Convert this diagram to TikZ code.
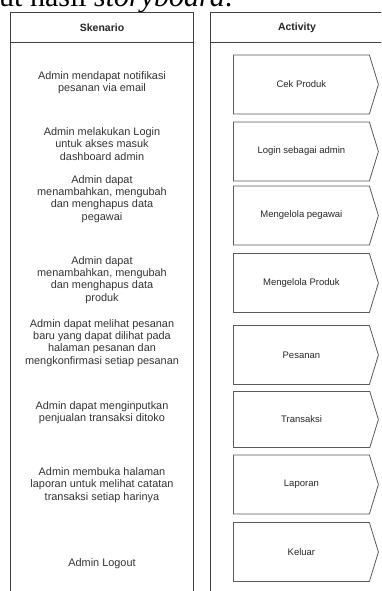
\documentclass[tikz,border=0pt]{standalone}
\usepackage{fontspec}
\setmainfont{Liberation Serif}[ItalicFont={Liberation Serif Italic}]
\newfontfamily\capfont{Liberation Serif}
\newfontfamily\capitfont{Liberation Serif Italic}
\newfontfamily\diagfont{Liberation Sans}
\usetikzlibrary{shapes.symbols}
\begin{document}
\begin{tikzpicture}[x=1pt,y=-1pt,
  panel/.style={draw=black!75, line width=0.8pt},
  hdr/.style={font=\diagfont\bfseries\fontsize{10.5}{12}\selectfont, text=black!85},
  scen/.style={align=center, font=\diagfont\fontsize{10.9}{12.3}\selectfont, text=black!80, inner sep=0pt},
  act/.style={signal, signal to=east, signal pointer angle=146, draw=black!65, line width=0.8pt,
    minimum width=145pt, minimum height=59pt, anchor=west, inner sep=0pt,
    font=\diagfont\fontsize{9.5}{11}\selectfont, text=black!85},
]
\useasboundingbox (0,0) rectangle (381,591);
\begin{scope}
\clip (0,0) rectangle (381,591);
\node[anchor=base west, inner sep=0pt, font=\capfont\fontsize{30}{30}\selectfont] (cap) at (-1,7) {ut hasil {\capitfont storyboard}.};
% panels
\draw[panel] (10.7,600) -- (10.7,12.6) -- (193.5,12.6) -- (193.5,600);
\draw[panel] (10.7,42.6) -- (193.5,42.6);
\draw[panel] (210.8,600) -- (210.8,12.6) -- (384,12.6) -- (384,600);
\draw[panel] (210.8,42.6) -- (384,42.6);
\node[hdr] (hs) at (102,28) {Skenario};
\node[hdr] (ha) at (297,28) {Activity};
% scenario texts
\node[scen] (s1) at (102,83) {Admin mendapat notifikasi\\pesanan via email};
\node[scen] (s2) at (102,144) {Admin melakukan Login\\untuk akses masuk\\dashboard admin};
\node[scen] (s3) at (102,199) {Admin dapat\\menambahkan, mengubah\\dan menghapus data\\pegawai};
\node[scen] (s4) at (102,280) {Admin dapat\\menambahkan, mengubah\\dan menghapus data\\produk};
\node[scen] (s5) at (102,343) {Admin dapat melihat pesanan\\baru yang dapat dilihat pada\\halaman pesanan dan\\mengkonfirmasi setiap pesanan};
\node[scen] (s6) at (102,413) {Admin dapat menginputkan\\penjualan transaksi ditoko};
\node[scen] (s7) at (102,485) {Admin membuka halaman\\laporan untuk melihat catatan\\transaksi setiap harinya};
\node[scen] (s8) at (102,564) {Admin Logout};
% activities
\node[act] (a1) at (233,84.5) {Cek Produk};
\node[act] (a2) at (233,151.5) {Login sebagai admin};
\node[act] (a3) at (233,215.5) {Mengelola pegawai};
\node[act] (a4) at (233,283) {Mengelola Produk};
\node[act] (a5) at (233,355) {Pesanan};
\node[act, minimum height=56pt] (a6) at (233,419.5) {Transaksi};
\node[act] (a7) at (233,484.5) {Laporan};
\node[act] (a8) at (233,552) {Keluar};
\end{scope}
\end{tikzpicture}
\end{document}
